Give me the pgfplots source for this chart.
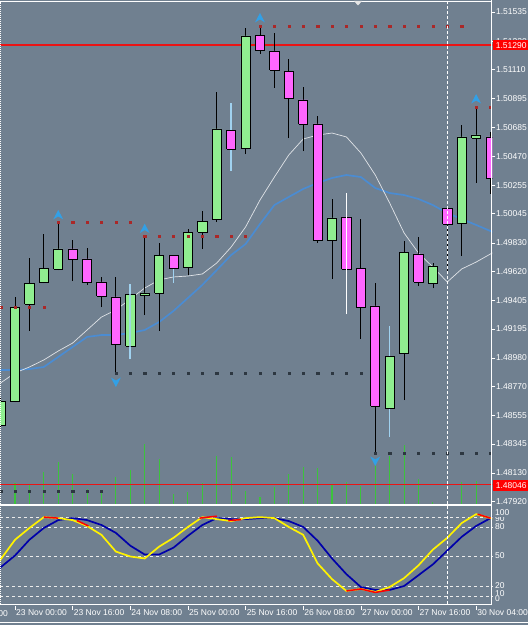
\documentclass[border=0pt]{standalone}
\usepackage{pgfplots}
\pgfplotsset{compat=1.18}
\usepackage{fontspec}
\setmainfont{Liberation Sans}
\definecolor{bg}{RGB}{112,128,144}
\definecolor{bull}{RGB}{144,238,144}
\definecolor{bear}{RGB}{255,102,255}
\definecolor{lblue}{RGB}{160,210,240}
\definecolor{mablue}{RGB}{75,140,210}
\definecolor{mawhite}{RGB}{225,228,232}
\definecolor{rdot}{RGB}{170,40,40}
\definecolor{ddot}{RGB}{45,55,65}
\definecolor{arrowc}{RGB}{50,160,230}
\definecolor{volg}{RGB}{60,195,60}
\definecolor{stblue}{RGB}{0,0,170}
\definecolor{hline}{RGB}{235,20,20}
\newcommand{\lbl}{\fontsize{8.5}{10}\selectfont}
\tikzset{wk/.style={black,line width=0.8pt}, wb/.style={lblue,line width=1.6pt}, ww/.style={white,line width=1.6pt}}
\pgfdeclareplotmark{fup}{\pgfpathmoveto{\pgfqpoint{0pt}{5pt}}\pgfpathlineto{\pgfqpoint{5pt}{-4.5pt}}\pgfpathlineto{\pgfqpoint{0pt}{-1.5pt}}\pgfpathlineto{\pgfqpoint{-5pt}{-4.5pt}}\pgfpathclose\pgfusepathqfill}
\pgfdeclareplotmark{fdown}{\pgfpathmoveto{\pgfqpoint{0pt}{-5pt}}\pgfpathlineto{\pgfqpoint{5pt}{4.5pt}}\pgfpathlineto{\pgfqpoint{0pt}{1.5pt}}\pgfpathlineto{\pgfqpoint{-5pt}{4.5pt}}\pgfpathclose\pgfusepathqfill}
% k, body left, body right, low, body bottom, body top, high, fill, wick style
\newcommand{\candle}[9]{%
 \addplot[#9] coordinates {(#1,#4) (#1,#7)};
 \addplot[draw=black, line width=0.8pt, fill=#8, line join=miter]
   coordinates {(#2,#5) (#3,#5) (#3,#6) (#2,#6) (#2,#5)};}
\begin{document}
\begin{tikzpicture}[x=1pt,y=1pt]
\fill[bg] (0,0) rectangle (528,625);
\useasboundingbox (0,0) rectangle (528,625);
% volume
\begin{axis}[at={(0pt,120pt)}, anchor=south west, width=492pt, height=503pt, scale only axis,
  xmin=-1.0417, xmax=33.125, ymin=0, ymax=503, hide axis]
\addplot[ycomb, volg, line width=1.1pt, mark=none] coordinates {
(0,22) (1,20) (2,33) (3,43) (4,31) (5,16) (6,15) (7,28) (8,35) (9,61) (10,46) (11,11)
(12,13) (13,22) (14,49) (15,48) (16,14) (17,8) (18,18) (19,31) (20,38) (21,37) (22,21)
(23,23) (24,19) (25,42) (26,49) (27,60) (28,26) (29,3) (30,3) (31,23) (32,24)};
\end{axis}
% main price panel
\begin{axis}[at={(0pt,120pt)}, anchor=south west, width=492pt, height=503pt, scale only axis,
  xmin=-1.0417, xmax=33.125, ymin=1.478937, ymax=1.516088,
  axis line style={draw=none}, xtick=\empty,
  ytick={1.47920,1.48130,1.48345,1.48555,1.48770,1.48980,1.49195,1.49405,1.49620,1.49830,1.50045,1.50255,1.50470,1.50685,1.50895,1.51110,1.51320,1.51535},
  yticklabels={1.47920,1.48130,1.48345,1.48555,1.48770,1.48980,1.49195,1.49405,1.49620,1.49830,1.50045,1.50255,1.50470,1.50685,1.50895,1.51110,1.51320,1.51535},
  ytick pos=right, yticklabel pos=right, tick align=outside, major tick length=3pt,
  ytick style={white, line width=0.6pt},
  yticklabel style={font=\lbl, text=white, inner sep=0pt, xshift=0.5pt}]
\addplot[hline, line width=1.4pt] coordinates {(-2,1.51290) (35,1.51290)};
\addplot[hline, line width=1.2pt] coordinates {(-2,1.48046) (35,1.48046)};
% support / resistance dots
\addplot[only marks, mark=square*, mark size=1.1pt, rdot] coordinates {
(-1,1.49352) (0,1.49352) (1,1.49352) (2,1.49352)
(3,1.49984) (4,1.49984) (5,1.49984) (6,1.49984) (7,1.49984) (8,1.49984)
(9,1.49881) (10,1.49881) (11,1.49881) (12,1.49881) (13,1.49881) (14,1.49881) (15,1.49881) (16,1.49881)
(17,1.51432) (18,1.51432) (19,1.51432) (20,1.51432) (21,1.51432) (22,1.51432) (23,1.51432) (24,1.51432)
(25,1.51432) (26,1.51432) (27,1.51432) (28,1.51432) (29,1.51432) (30,1.51432) (31,1.51432)
(32,1.50833) (33,1.50833)};
\addplot[only marks, mark=square*, mark size=1.1pt, ddot] coordinates {
(-1,1.47997) (0,1.47997) (1,1.47997) (2,1.47997) (3,1.47997) (4,1.47997) (5,1.47997) (6,1.47997)
(7,1.48869) (8,1.48869) (9,1.48869) (10,1.48869) (11,1.48869) (12,1.48869) (13,1.48869) (14,1.48869)
(15,1.48869) (16,1.48869) (17,1.48869) (18,1.48869) (19,1.48869) (20,1.48869) (21,1.48869) (22,1.48869)
(23,1.48869) (24,1.48869)
(25,1.48278) (26,1.48278) (27,1.48278) (28,1.48278) (29,1.48278) (30,1.48278) (31,1.48278) (32,1.48278) (33,1.48278)};
% moving averages
\addplot[mablue, line width=1.7pt] coordinates {
(-2,1.48891) (-1,1.48891) (0,1.48891) (1,1.48898) (2,1.48913) (3,1.48987) (4,1.49061) (5,1.49135)
(6,1.49149) (7,1.49149) (8,1.49164) (9,1.49186) (10,1.49245) (11,1.49327) (12,1.49423) (13,1.49519)
(14,1.49629) (15,1.49740) (16,1.49821) (17,1.49969) (18,1.50109) (19,1.50169) (20,1.50228) (21,1.50272)
(22,1.50309) (23,1.50331) (24,1.50316) (25,1.50235) (26,1.50198) (27,1.50183) (28,1.50154) (29,1.50109)
(30,1.50050) (31,1.50006) (32,1.49962) (33,1.49917) (34,1.49880)};
\addplot[mawhite, line width=0.7pt] coordinates {
(-2,1.48720) (-1,1.48795) (0,1.48869) (1,1.48913) (2,1.48965) (3,1.49031) (4,1.49090) (5,1.49186)
(6,1.49282) (7,1.49334) (8,1.49415) (9,1.49496) (10,1.49556) (11,1.49578) (12,1.49585) (13,1.49600)
(14,1.49681) (15,1.49799) (16,1.49947) (17,1.50146) (18,1.50316) (19,1.50479) (20,1.50597) (21,1.50626)
(22,1.50641) (23,1.50612) (24,1.50494) (25,1.50331) (26,1.50124) (27,1.49903) (28,1.49755) (29,1.49651)
(30,1.49541) (31,1.49637) (32,1.49688) (33,1.49748) (34,1.49800)};
% candles
\candle{-1}{-1.32}{-0.68}{1.48462}{1.48485}{1.48662}{1.48684}{bull}{wk}
\candle{0}{-0.32}{0.32}{1.48654}{1.48662}{1.49356}{1.49430}{bull}{wk}
\candle{1}{0.68}{1.32}{1.49179}{1.49378}{1.49533}{1.49718}{bull}{wk}
\candle{2}{1.68}{2.32}{1.49533}{1.49541}{1.49644}{1.49895}{bull}{wk}
\candle{3}{2.68}{3.32}{1.49629}{1.49637}{1.49785}{1.49984}{bull}{wk}
\candle{4}{3.68}{4.32}{1.49548}{1.49711}{1.49785}{1.49851}{bear}{wk}
\candle{5}{4.68}{5.32}{1.49519}{1.49541}{1.49711}{1.49792}{bear}{wk}
\candle{6}{5.68}{6.32}{1.49356}{1.49437}{1.49541}{1.49578}{bear}{wk}
\candle{7}{6.68}{7.32}{1.48869}{1.49083}{1.49430}{1.49578}{bear}{wk}
\candle{8}{7.68}{8.32}{1.48972}{1.49068}{1.49452}{1.49526}{bull}{wb}
\candle{9}{8.68}{9.32}{1.49297}{1.49445}{1.49460}{1.49881}{bull}{wk}
\candle{10}{9.68}{10.32}{1.49179}{1.49460}{1.49740}{1.49829}{bull}{wk}
\candle{11}{10.68}{11.32}{1.49533}{1.49644}{1.49740}{1.49740}{bear}{wb}
\candle{12}{11.68}{12.32}{1.49592}{1.49652}{1.49910}{1.49932}{bull}{wk}
\candle{13}{12.68}{13.32}{1.49785}{1.49910}{1.49991}{1.50065}{bull}{wk}
\candle{14}{13.68}{14.32}{1.49984}{1.50006}{1.50671}{1.50944}{bull}{wk}
\candle{15}{14.68}{15.32}{1.50361}{1.50523}{1.50663}{1.50863}{bear}{wb}
\candle{16}{15.68}{16.32}{1.50486}{1.50531}{1.51358}{1.51417}{bull}{wk}
\candle{17}{16.68}{17.32}{1.51225}{1.51254}{1.51365}{1.51432}{bear}{wk}
\candle{18}{17.68}{18.32}{1.50974}{1.51107}{1.51247}{1.51380}{bear}{wk}
\candle{19}{18.68}{19.32}{1.50604}{1.50900}{1.51099}{1.51188}{bear}{wk}
\candle{20}{19.68}{20.32}{1.50508}{1.50708}{1.50885}{1.50981}{bear}{wk}
\candle{21}{20.68}{21.32}{1.49829}{1.49851}{1.50708}{1.50767}{bear}{wk}
\candle{22}{21.68}{22.32}{1.49563}{1.49851}{1.50014}{1.50154}{bull}{wk}
\candle{23}{22.68}{23.32}{1.49304}{1.49637}{1.50021}{1.50198}{bear}{ww}
\candle{24}{23.68}{24.32}{1.49120}{1.49356}{1.49644}{1.50006}{bear}{wk}
\candle{25}{24.68}{25.32}{1.48278}{1.48625}{1.49364}{1.49533}{bear}{wk}
\candle{26}{25.68}{26.32}{1.48396}{1.48610}{1.48994}{1.49216}{bull}{wb}
\candle{27}{26.68}{27.32}{1.48669}{1.49016}{1.49762}{1.49844}{bull}{wk}
\candle{28}{27.68}{28.32}{1.49511}{1.49541}{1.49748}{1.49873}{bear}{wk}
\candle{29}{28.68}{29.32}{1.49496}{1.49533}{1.49659}{1.49681}{bull}{wk}
\candle{30}{29.68}{30.32}{1.49615}{1.49969}{1.50087}{1.50102}{bear}{wk}
\candle{31}{30.68}{31.32}{1.49733}{1.49977}{1.50612}{1.50700}{bull}{wk}
\candle{32}{31.68}{32.32}{1.50272}{1.50604}{1.50627}{1.50833}{bull}{wk}
\candle{33}{32.68}{33.32}{1.50191}{1.50309}{1.50612}{1.50649}{bear}{wk}
\addplot[lblue, line width=1.6pt, opacity=0.8] coordinates {(8,1.48972) (8,1.49526)};
\addplot[white, line width=1.6pt] coordinates {(23,1.49304) (23,1.50198)};
% fractal arrows
\addplot[only marks, mark=fup, arrowc] coordinates {(3,1.50036) (9,1.49935) (17,1.51491) (32,1.50892)};
\addplot[only marks, mark=fdown, arrowc] coordinates {(7,1.48802) (25,1.48219)};
\end{axis}
% stochastic panel
\begin{axis}[at={(0pt,19.3pt)}, anchor=south west, width=492pt, height=98.4pt, scale only axis,
  xmin=-1.0417, xmax=33.125, ymin=0, ymax=100, axis line style={draw=none},
  xtick={0,4,...,32},
  xticklabels={23 Nov 00:00,23 Nov 16:00,24 Nov 08:00,25 Nov 00:00,25 Nov 16:00,26 Nov 08:00,27 Nov 00:00,27 Nov 16:00,30 Nov 04:00},
  xtick pos=bottom, tick align=outside, major tick length=4pt,
  xtick style={white, line width=0.6pt},
  xticklabel style={font=\lbl, text=white, anchor=north west, inner sep=0pt, xshift=1pt},
  ytick={10,20,50,80,90}, yticklabels={}, ytick style={draw=none}, ymajorgrids,
  grid style={white!85!gray, dash pattern=on 3pt off 3pt, line width=0.7pt}]
\addplot[stblue, line width=1.7pt] coordinates {
(-2,27) (-1,39) (0,51) (1,67) (2,79) (3,87) (4,89) (5,87) (6,82) (7,74) (8,61) (9,52) (10,52) (11,59)
(12,71) (13,82) (14,89) (15,88) (16,88) (17,89) (18,89) (19,86) (20,80) (21,66) (22,48) (23,32) (24,19)
(25,16) (26,16) (27,20) (28,31) (29,42) (30,56) (31,70) (32,81) (33,89) (34,95)};
\addplot[yellow, line width=1.7pt] coordinates {
(-2,30) (-1,47) (0,67) (1,79) (2,90) (3,89) (4,87) (5,81) (6,72) (7,55) (8,50) (9,48) (10,60) (11,69)
(12,80) (13,90) (14,88) (15,86) (16,89) (17,90) (18,89) (19,80) (20,72) (21,43) (22,27) (23,15) (24,17)
(25,14) (26,19) (27,28) (28,41) (29,57) (30,69) (31,84) (32,93) (33,89) (34,86)};
\addplot[red, line width=1.5pt, unbounded coords=jump] coordinates {
(2,90) (3,89) (nan,nan) (4.3,86.5) (5.1,81) (nan,nan) (12.8,89) (14,91) (nan,nan)
(14.8,86.5) (15.7,87.5) (nan,nan) (23,15) (24,17) (25,13.5) (26,16) (nan,nan) (32.1,93) (33,89)};
\end{axis}
% frame and decorations
\draw[white, line width=1pt] (0,623.4) -- (492,623.4);
\draw[white, line width=1.2pt] (0,120) -- (492,120);
\draw[white, line width=1pt] (0,20.5) -- (492,20.5);
\draw[white, line width=1pt] (0,2.5) -- (528,2.5);
\draw[white, line width=1pt] (491.5,20.5) -- (491.5,625);
\draw[white, line width=0.8pt, dash pattern=on 1pt off 1pt] (0.8,20.5) -- (0.8,623);
\draw[white, line width=0.7pt, dash pattern=on 3pt off 2pt] (447,20.5) -- (447,623);
\fill[gray!20] (354,624) -- (362,624) -- (358,619.5) -- cycle;
\node[font=\lbl, text=white, anchor=north east, inner sep=0pt] at (8,15) {20 Nov 12:00};
% red price labels
\fill[red] (492.5,574.5) rectangle (528,585.2);
\node[anchor=west, text=white, font=\lbl, inner sep=0pt] at (495.7,579.8) {1.51290};
\fill[red] (492.5,134.2) rectangle (528,144.8);
\node[anchor=west, text=white, font=\lbl, inner sep=0pt] at (495.7,139.5) {1.48046};
% stochastic scale labels
\node[anchor=west, text=white, font=\lbl, inner sep=0pt] at (495,106) {90};
\node[anchor=west, text=white, font=\lbl, inner sep=0pt] at (495,31) {10};
\node[anchor=west, text=white, font=\lbl, inner sep=0.5pt, fill=bg] at (494.5,112) {100};
\node[anchor=west, text=white, font=\lbl, inner sep=0.5pt, fill=bg] at (494.5,98) {80};
\node[anchor=west, text=white, font=\lbl, inner sep=0.5pt, fill=bg] at (494.5,69) {50};
\node[anchor=west, text=white, font=\lbl, inner sep=0.5pt, fill=bg] at (494.5,39) {20};
\node[anchor=west, text=white, font=\lbl, inner sep=0.5pt, fill=bg] at (494.5,26) {0};
\end{tikzpicture}
\end{document}
